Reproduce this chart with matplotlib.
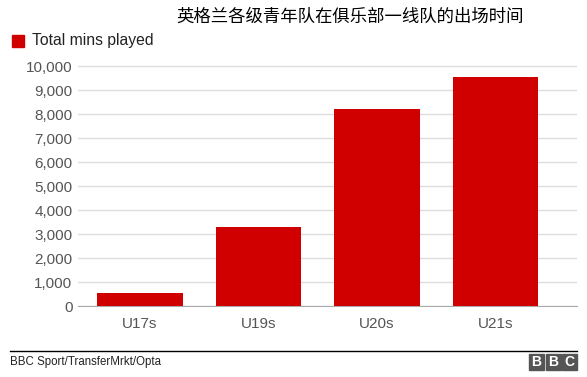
import matplotlib.pyplot as plt
from matplotlib.patches import Rectangle

plt.rcParams['font.family'] = ['Liberation Sans', 'Noto Sans CJK SC', 'DejaVu Sans']

# 数据
categories = ['U17s', 'U19s', 'U20s', 'U21s']
mins_played = [550, 3300, 8214, 9550]
y_ticks = list(range(0, 10001, 1000))

red = '#d10000'
grey = '#555555'

fig = plt.figure(figsize=(5.87, 3.77), dpi=100)
ax = fig.add_axes([78 / 587, 1 - 306 / 377, (577 - 78) / 587, (306 - 54) / 377])

ax.bar(range(len(categories)), mins_played, width=0.72, color=red, zorder=3)

ax.set_xlim(-0.524, 3.69)
ax.set_ylim(0, 10500)
ax.set_yticks(y_ticks)
ax.set_yticklabels(['{:,}'.format(v) for v in y_ticks], fontsize=11, color=grey)
ax.set_xticks(range(len(categories)))
ax.set_xticklabels(categories, fontsize=11, color=grey)
ax.grid(axis='y', color='#dddddd', linewidth=1, zorder=0)
for s in ['top', 'right', 'left']:
    ax.spines[s].set_visible(False)
ax.spines['bottom'].set_color('#aaaaaa')
ax.tick_params(axis='both', length=0, pad=4)
ax.tick_params(axis='x', pad=8)

# 标题和图例
fig.text(350 / 587, 1 - 17 / 377, '英格兰各级青年队在俱乐部一线队的出场时间',
         ha='center', va='center', fontsize=12.5, family=['Noto Sans CJK SC', 'DejaVu Sans'])
fig.patches.append(Rectangle((12 / 587, 1 - 47 / 377), 12 / 587, 12 / 377,
                             transform=fig.transFigure, color=red))
fig.text(32 / 587, 1 - 41 / 377, 'Total mins played', ha='left', va='center', fontsize=11.3, color='#222222')

# 底部
fig.add_artist(plt.Line2D([10 / 587, 577 / 587], [1 - 351 / 377, 1 - 351 / 377],
                          transform=fig.transFigure, color='black', linewidth=1))
fig.text(10 / 587, 1 - 362 / 377, 'BBC Sport/TransferMrkt/Opta', ha='left', va='center',
         fontsize=8.3, color='#222222')
for i, ch in enumerate('BBC'):
    x0 = (529 + i * 16.5) / 587
    fig.patches.append(Rectangle((x0, 1 - 370 / 377), 15 / 587, 16 / 377,
                                 transform=fig.transFigure, color='#555555'))
    fig.text(x0 + 7.5 / 587, 1 - 362 / 377, ch, ha='center', va='center', fontsize=10,
             color='white', weight='bold')

fig.savefig('out.png', dpi=100)
